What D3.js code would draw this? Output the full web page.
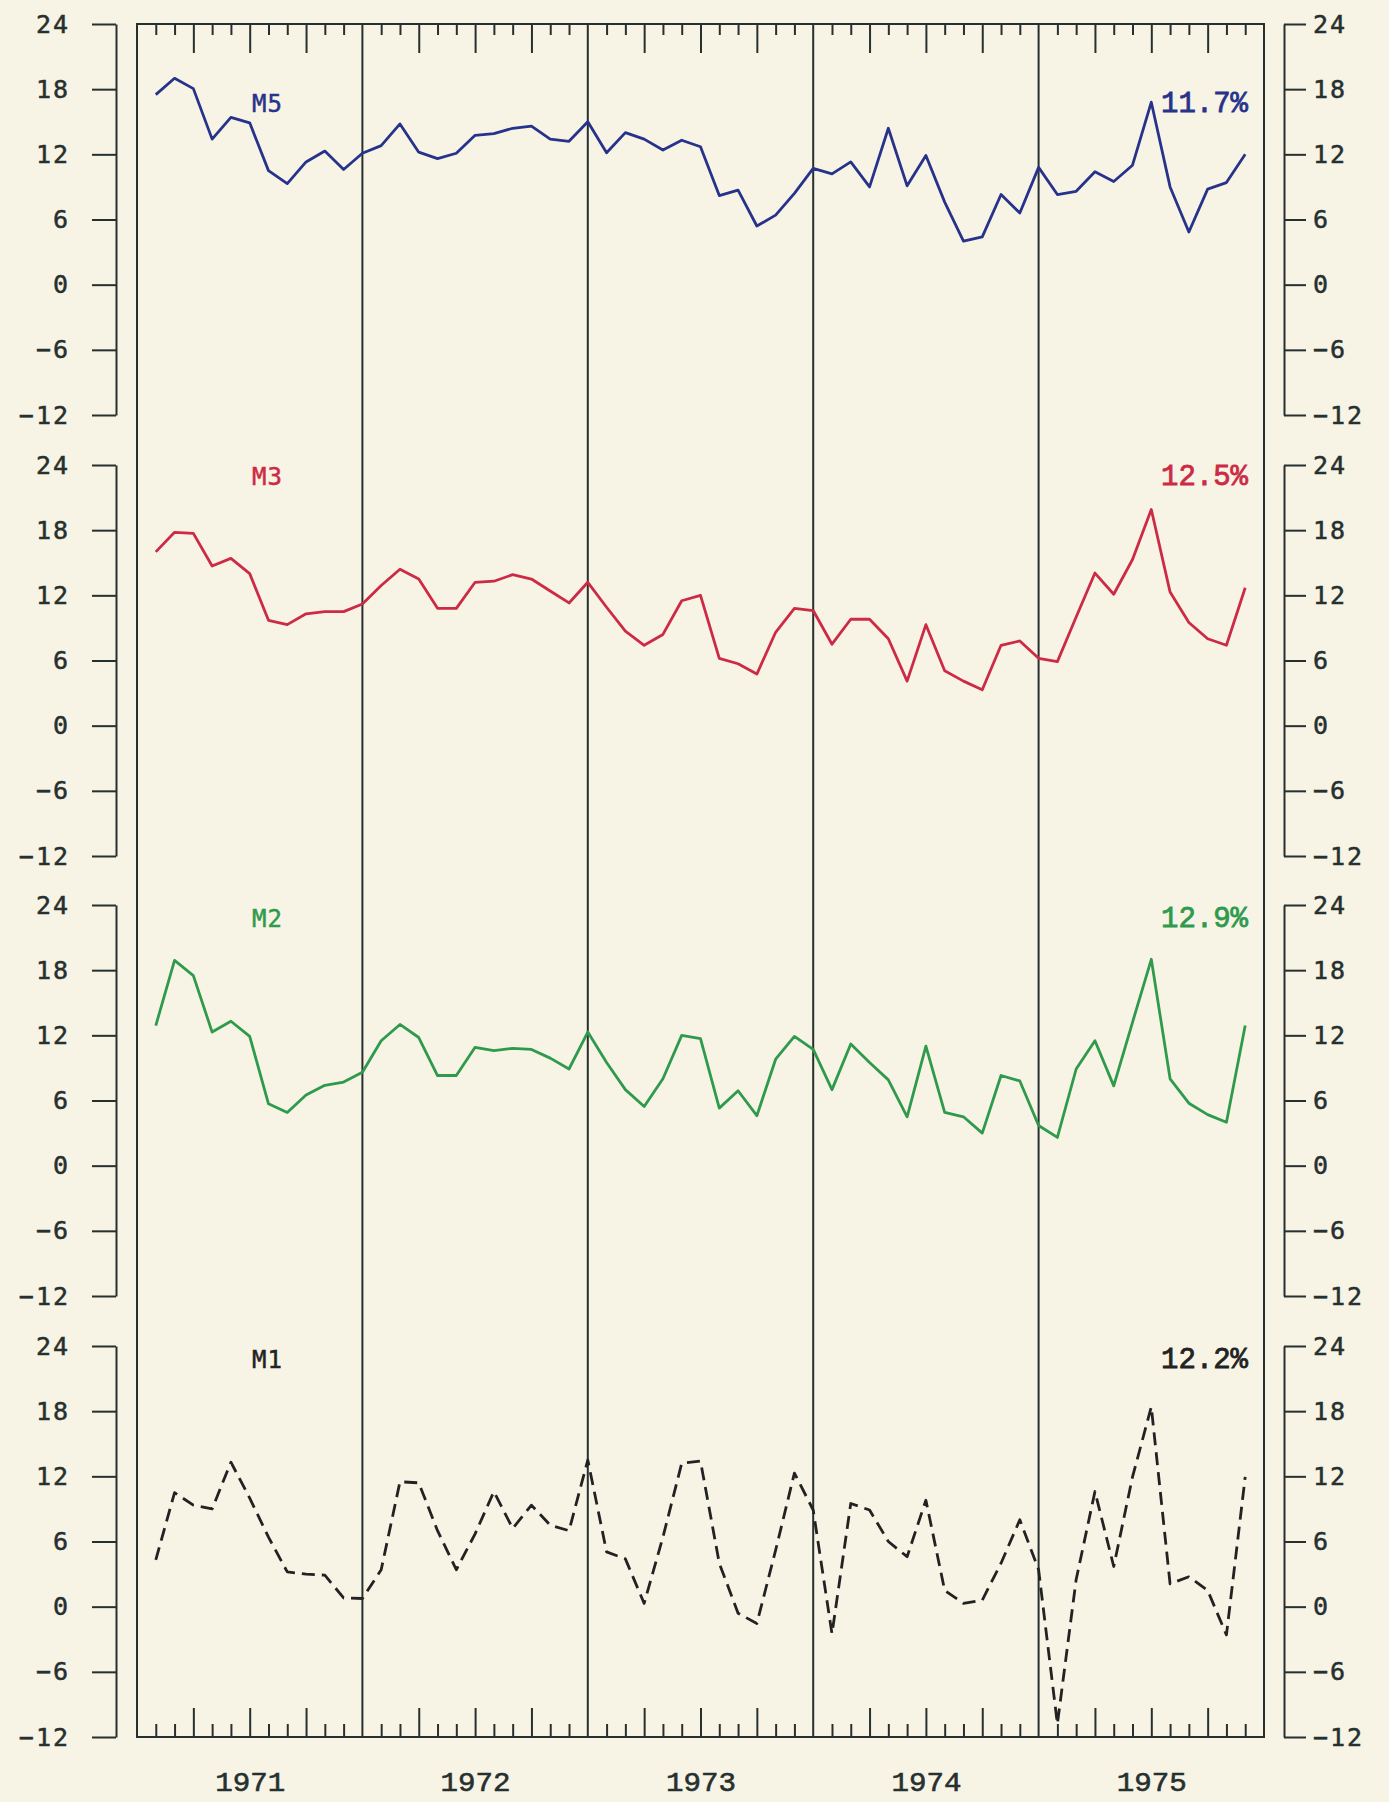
<!DOCTYPE html>
<html>
<head>
<meta charset="utf-8">
<script src="https://cdn.jsdelivr.net/npm/d3@7"></script>
<style>
  body { margin: 0; background: #f7f4e6; }
  svg { display: block; }
</style>
</head>
<body>
<svg width="1389" height="1802"></svg>
<script>
/* ============================ Data ============================ */
// month index counted from January 1971 (1 = end of Jan 1971 ... 59)
let months = d3.range(1, 60);
let years  = ["1971", "1972", "1973", "1974", "1975"];
let yTicks = [-12, -6, 0, 6, 12, 18, 24];

let seriesNames  = ["M5", "M3", "M2", "M1"];
let growthLabels = ["11.7%", "12.5%", "12.9%", "12.2%"];

let m5 = [17.5, 19.0, 18.05, 13.4, 15.4, 14.9, 10.5, 9.3, 11.3, 12.3, 10.6, 12.1,
          12.8, 14.8, 12.2, 11.6, 12.1, 13.75, 13.9, 14.4, 14.6, 13.4, 13.2, 15.0,
          12.15, 14.0, 13.4, 12.4, 13.3, 12.7, 8.2, 8.7, 5.4, 6.4, 8.4, 10.7,
          10.2, 11.3, 9.0, 14.4, 9.1, 11.9, 7.6, 4.0, 4.4, 8.3, 6.6, 10.8,
          8.3, 8.6, 10.4, 9.5, 11.0, 16.8, 9.0, 4.85, 8.8, 9.4, 12.0];

let m3 = [16.0, 17.8, 17.7, 14.7, 15.4, 14.0, 9.7, 9.3, 10.3, 10.5, 10.5, 11.2,
          12.9, 14.4, 13.5, 10.8, 10.8, 13.2, 13.3, 13.9, 13.5, 12.4, 11.3, 13.2,
          10.9, 8.7, 7.4, 8.4, 11.5, 12.0, 6.2, 5.7, 4.75, 8.6, 10.8, 10.6,
          7.5, 9.8, 9.8, 8.0, 4.1, 9.3, 5.05, 4.1, 3.3, 7.4, 7.8, 6.2,
          5.9, 10.0, 14.05, 12.1, 15.3, 19.9, 12.3, 9.5, 8.0, 7.4, 12.7];

let m2 = [12.9, 18.9, 17.5, 12.3, 13.3, 11.9, 5.7, 4.9, 6.5, 7.4, 7.7, 8.6,
          11.5, 13.0, 11.8, 8.3, 8.3, 10.9, 10.6, 10.8, 10.7, 9.9, 8.9, 12.3,
          9.5, 7.0, 5.45, 8.0, 12.0, 11.7, 5.3, 6.9, 4.6, 9.8, 11.9, 10.7,
          7.0, 11.2, 9.5, 7.9, 4.5, 11.0, 4.9, 4.5, 3.0, 8.3, 7.8, 3.7,
          2.6, 8.9, 11.5, 7.35, 13.2, 19.0, 8.0, 5.75, 4.7, 4.0, 12.9];

let m1 = [4.3, 10.5, 9.35, 9.0, 13.3, 10.0, 6.4, 3.2, 3.0, 2.9, 0.8, 0.75,
          3.4, 11.5, 11.4, 7.0, 3.4, 6.7, 10.6, 7.2, 9.35, 7.5, 7.0, 13.5,
          5.05, 4.4, 0.3, 6.4, 13.2, 13.4, 4.0, -0.6, -1.55, 5.2, 12.3, 8.9,
          -2.5, 9.5, 8.9, 6.0, 4.6, 9.8, 1.5, 0.3, 0.6, 4.0, 8.0, 3.4,
          -10.8, 2.5, 10.6, 3.7, 11.95, 18.4, 2.1, 2.75, 1.5, -2.6, 11.95];

let seriesValues = [m5, m3, m2, m1];

/* ============================ Layout ============================ */
let colors    = ["#27338a", "#cc2a45", "#2f9a4c", "#222222"];
let inkColor  = "#26302f";
let panelTops = [24, 465, 905, 1346];
let panelH    = 391;
let frameTop  = 24, frameBottom = 1737;
let leftAxisX = 116, rightAxisX = 1284;
let labelVal  = [15.9, 22.2, 22.0, 22.0];   // baseline of the series name, in panel units

let svg = d3.select("svg");

svg.append("rect")
   .attr("width", 1389).attr("height", 1802)
   .attr("fill", "#f7f4e6");

let x = d3.scaleLinear().domain([0, 60]).range([137, 1264]);

/* ---------- outer frame + year separators ---------- */
let frame = svg.append("g").attr("stroke", inkColor).attr("fill", "none").attr("stroke-width", 2);

frame.append("rect")
     .attr("x", x(0)).attr("y", frameTop)
     .attr("width", x(60) - x(0)).attr("height", frameBottom - frameTop);

frame.selectAll("line.year")
     .data([12, 24, 36, 48])
     .enter()
     .append("line")
     .attr("class", "year")
     .attr("x1", d => x(d)).attr("x2", d => x(d))
     .attr("y1", frameTop).attr("y2", frameBottom);

// month ticks, long every quarter
let shortMonths = months.filter(m => m % 3 != 0);
let longMonths  = months.filter(m => m % 3 == 0 && m % 12 != 0);

function monthTicks(axisFn, vals, size, yPos)
{
    let g = svg.append("g")
        .attr("transform", "translate(0," + yPos + ")")
        .call(axisFn(x).tickValues(vals).tickSize(size).tickFormat(""));
    g.select(".domain").remove();
    g.selectAll("line").attr("stroke", inkColor).attr("stroke-width", 2);
}
monthTicks(d3.axisBottom, shortMonths, 11, frameTop);
monthTicks(d3.axisBottom, longMonths, 29, frameTop);
monthTicks(d3.axisTop, shortMonths, 13, frameBottom);
monthTicks(d3.axisTop, longMonths, 29, frameBottom);

// year labels under the frame
let yearAxis = svg.append("g")
    .attr("transform", "translate(0," + frameBottom + ")")
    .call(d3.axisBottom(x).tickValues([6, 18, 30, 42, 54])
           .tickSize(0).tickPadding(54)
           .tickFormat((d, i) => years[i]));
yearAxis.select(".domain").remove();
yearAxis.selectAll("text")
    .attr("dy", 0)
    .attr("font-family", "Liberation Mono, monospace")
    .attr("font-size", 28)
    .attr("fill", inkColor)
    .attr("stroke", inkColor)
    .attr("stroke-width", 0.6)
    .attr("textLength", 70)
    .attr("lengthAdjust", "spacingAndGlyphs");

/* ---------- panels ---------- */
seriesValues.forEach((vals, i) => {

    let y = d3.scaleLinear().domain([-12, 24]).range([panelTops[i] + panelH, panelTops[i]]);

    // left axis
    let la = svg.append("g")
        .attr("transform", "translate(" + leftAxisX + ",0)")
        .call(d3.axisLeft(y).tickValues(yTicks).tickSize(24).tickSizeOuter(0).tickPadding(22));
    // right axis
    let ra = svg.append("g")
        .attr("transform", "translate(" + rightAxisX + ",0)")
        .call(d3.axisRight(y).tickValues(yTicks).tickSize(22).tickSizeOuter(0).tickPadding(7));

    [la, ra].forEach(a => {
        a.select(".domain").attr("stroke", inkColor).attr("stroke-width", 2);
        a.selectAll(".tick line").attr("stroke", inkColor).attr("stroke-width", 2);
        a.selectAll(".tick text")
         .attr("font-family", "DejaVu Sans Mono, monospace")
         .attr("font-size", 25)
         .attr("letter-spacing", 2)
         .attr("fill", inkColor)
         .attr("stroke", inkColor)
         .attr("stroke-width", 0.5);
    });

    // the series line
    let line = d3.line()
        .x((d, j) => x(months[j]))
        .y(d => y(d));

    svg.append("path")
       .datum(vals)
       .attr("d", line)
       .attr("fill", "none")
       .attr("stroke", colors[i])
       .attr("stroke-width", 2.8)
       .attr("stroke-linejoin", "round")
       .attr("stroke-dasharray", i == 3 ? "13,7" : null);

    // series name and growth rate
    svg.append("text")
       .attr("x", 252)
       .attr("y", y(labelVal[i]))
       .attr("font-family", "DejaVu Sans Mono, monospace")
       .attr("font-size", 24)
       .attr("letter-spacing", 1)
       .attr("fill", colors[i])
       .attr("stroke", colors[i])
       .attr("stroke-width", 0.5)
       .text(seriesNames[i]);

    svg.append("text")
       .attr("x", 1248)
       .attr("y", y(labelVal[i]))
       .attr("text-anchor", "end")
       .attr("font-family", "Liberation Mono, monospace")
       .attr("font-size", 29)
       .attr("fill", colors[i])
       .attr("stroke", colors[i])
       .attr("stroke-width", 0.8)
       .text(growthLabels[i]);
});
</script>
</body>
</html>
